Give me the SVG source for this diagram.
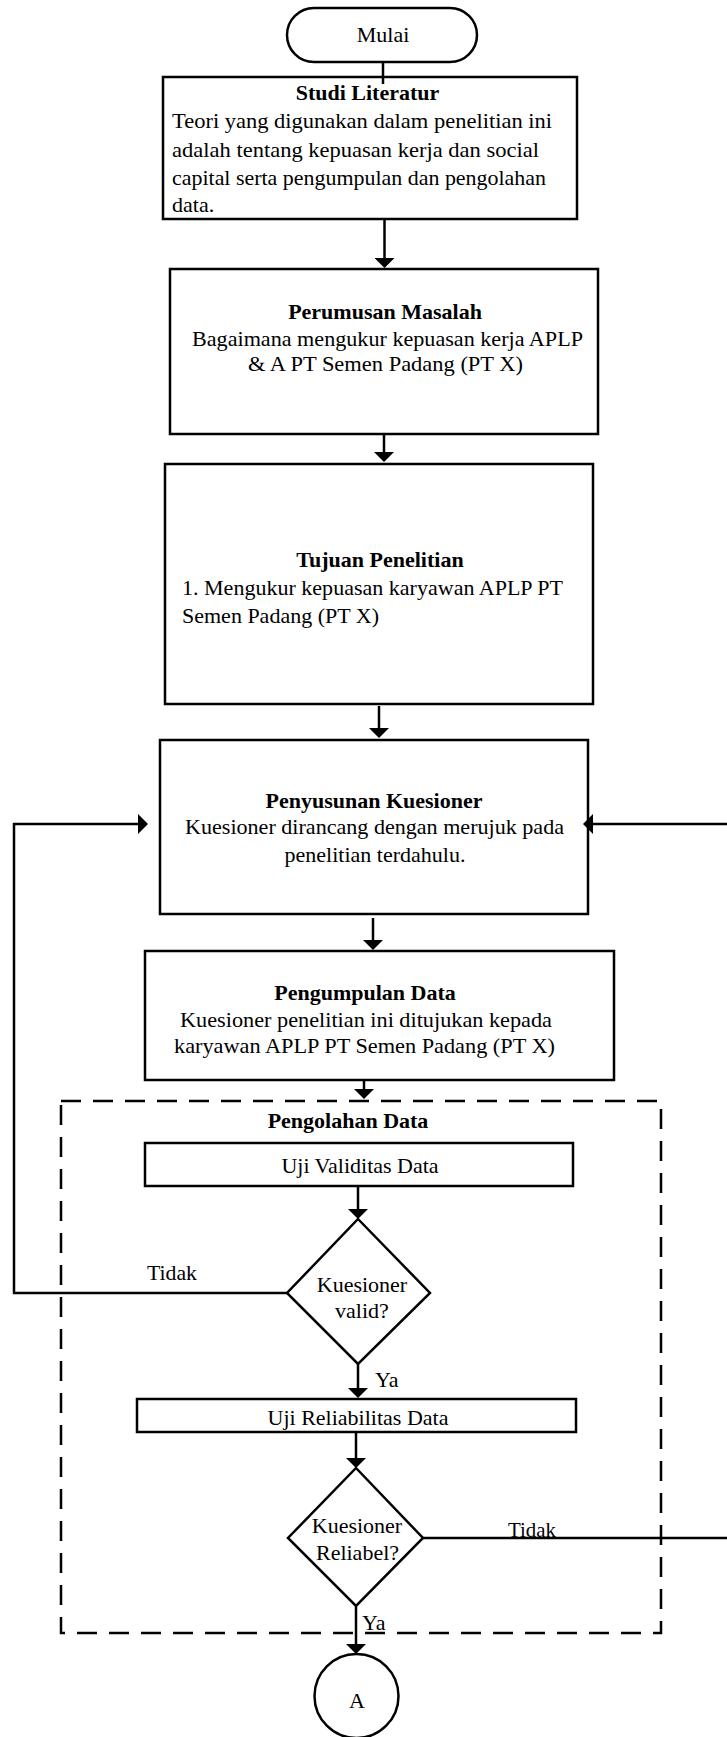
<svg xmlns="http://www.w3.org/2000/svg" width="727" height="1737" viewBox="0 0 727 1737">
<style>
  .box { fill: #ffffff; stroke: #000000; stroke-width: 2.5; }
  .dash { fill: none; stroke: #000000; stroke-width: 2.5; stroke-dasharray: 20 12; }
  .line { fill: none; stroke: #000000; stroke-width: 2.5; }
  .arr { fill: none; stroke: #000000; stroke-width: 2.5; marker-end: url(#ah); }
  text { font-family: "Liberation Serif", "Times New Roman", serif; font-size: 22px; fill: #000000; }
  .b { font-weight: bold; }
  .c { text-anchor: middle; }
</style>
<defs>
  <marker id="ah" markerUnits="userSpaceOnUse" viewBox="0 0 10 20" refX="8" refY="10" markerWidth="10" markerHeight="20" orient="auto">
    <path d="M0,0 L10,10 L0,20 z" fill="#000000"/>
  </marker>
</defs>
<rect width="727" height="1737" fill="#ffffff"/>

<g id="pengolahan-data">
  <rect class="dash" x="61" y="1101" width="600" height="532"/>
  <text class="b c" x="348" y="1128">Pengolahan Data</text>
</g>

<g id="connectors">
  <line class="line" x1="383" y1="62" x2="383" y2="84"/>
  <line class="arr" x1="384.5" y1="219" x2="384.5" y2="266"/>
  <line class="arr" x1="384" y1="430" x2="384" y2="460"/>
  <line class="arr" x1="379" y1="706" x2="379" y2="736"/>
  <line class="arr" x1="373" y1="918" x2="373" y2="948"/>
  <line class="arr" x1="364" y1="1080" x2="364" y2="1097"/>
  <line class="arr" x1="358" y1="1186" x2="358" y2="1217"/>
  <line class="arr" x1="358" y1="1364" x2="358" y2="1396"/>
  <line class="arr" x1="356" y1="1432" x2="356" y2="1466"/>
  <line class="arr" x1="356" y1="1606" x2="356" y2="1652"/>
  <path class="arr" d="M287,1293 H14 V824 H146"/>
  <path class="arr" d="M423,1538 H740 V824 H585"/>
  <text x="147" y="1280" textLength="50" lengthAdjust="spacingAndGlyphs">Tidak</text>
  <text x="375" y="1387">Ya</text>
  <text x="508" y="1537" textLength="48" lengthAdjust="spacingAndGlyphs">Tidak</text>
  <text x="362" y="1630">Ya</text>
</g>

<g id="mulai">
  <rect class="box" x="287" y="8" width="190" height="54" rx="27" ry="27"/>
  <text class="c" x="383" y="42">Mulai</text>
</g>

<g id="studi-literatur">
  <rect class="box" x="163" y="77" width="414" height="142" style="fill:none"/>
  <text class="b c" x="367.5" y="100">Studi Literatur</text>
  <text x="172" y="128" textLength="380" lengthAdjust="spacingAndGlyphs">Teori yang digunakan dalam penelitian ini</text>
  <text x="172" y="156.5" textLength="367" lengthAdjust="spacingAndGlyphs">adalah tentang kepuasan kerja dan social</text>
  <text x="172" y="185" textLength="374" lengthAdjust="spacingAndGlyphs">capital serta pengumpulan dan pengolahan</text>
  <text x="172" y="212">data.</text>
</g>

<g id="perumusan-masalah">
  <rect class="box" x="170" y="269" width="428" height="165"/>
  <text class="b c" x="385" y="319">Perumusan Masalah</text>
  <text x="192" y="346" textLength="391" lengthAdjust="spacingAndGlyphs">Bagaimana mengukur kepuasan kerja APLP</text>
  <text x="248" y="371" textLength="275" lengthAdjust="spacingAndGlyphs">&amp; A PT Semen Padang (PT X)</text>
</g>

<g id="tujuan-penelitian">
  <rect class="box" x="165" y="464" width="428" height="240"/>
  <text class="b c" x="380" y="567">Tujuan Penelitian</text>
  <text x="182" y="595" textLength="381" lengthAdjust="spacingAndGlyphs">1. Mengukur kepuasan karyawan APLP PT</text>
  <text x="182" y="623" textLength="197" lengthAdjust="spacingAndGlyphs">Semen Padang (PT X)</text>
</g>

<g id="penyusunan-kuesioner">
  <rect class="box" x="160" y="740" width="428" height="174" style="fill:none"/>
  <text class="b c" x="374" y="808">Penyusunan Kuesioner</text>
  <text x="185" y="834" textLength="379" lengthAdjust="spacingAndGlyphs">Kuesioner dirancang dengan merujuk pada</text>
  <text class="c" x="375" y="862">penelitian terdahulu.</text>
</g>

<g id="pengumpulan-data">
  <rect class="box" x="145" y="951" width="469" height="129"/>
  <text class="b c" x="365" y="1000">Pengumpulan Data</text>
  <text x="180" y="1027" textLength="372" lengthAdjust="spacingAndGlyphs">Kuesioner penelitian ini ditujukan kepada</text>
  <text x="174" y="1053" textLength="381" lengthAdjust="spacingAndGlyphs">karyawan APLP PT Semen Padang (PT X)</text>
</g>

<g id="uji-validitas">
  <rect class="box" x="145" y="1143" width="428" height="43"/>
  <text class="c" x="360" y="1173">Uji Validitas Data</text>
</g>

<g id="kuesioner-valid">
  <polygon class="box" points="358,1219 430,1293 358,1364 287,1293"/>
  <text class="c" x="362" y="1292">Kuesioner</text>
  <text class="c" x="362" y="1318">valid?</text>
</g>

<g id="uji-reliabilitas">
  <rect class="box" x="137" y="1399" width="439" height="33"/>
  <text class="c" x="358" y="1425">Uji Reliabilitas Data</text>
</g>

<g id="kuesioner-reliabel">
  <polygon class="box" points="356,1468 423,1538 356,1606 288,1538"/>
  <text class="c" x="357" y="1533">Kuesioner</text>
  <text class="c" x="357.5" y="1560">Reliabel?</text>
</g>

<g id="konektor-a">
  <ellipse class="box" cx="356.5" cy="1696" rx="42" ry="42"/>
  <text class="c" x="357" y="1708">A</text>
</g>
</svg>
